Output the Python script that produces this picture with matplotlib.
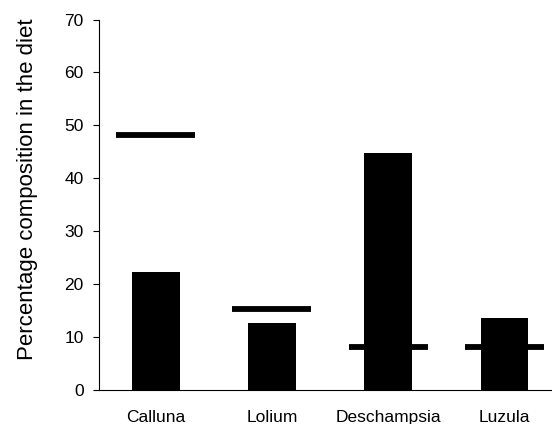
import numpy as np
import matplotlib
matplotlib.use("Agg")
import matplotlib.pyplot as plt

plt.rcParams['font.family'] = ['Liberation Sans', 'DejaVu Sans']

species = ["Calluna", "Lolium", "Deschampsia", "Luzula"]
diet = [22.3, 12.7, 44.8, 13.6]        # bars
available = [48.2, 15.3, 8.1, 8.1]     # horizontal dashes

fig = plt.figure(figsize=(5.52, 4.24), dpi=100)
ax = fig.add_axes([0.179, 0.080, 0.821, 0.874])

x = np.arange(len(species))
ax.bar(x, diet, width=0.41, color='black')
ax.hlines(available, x - 0.34, x + 0.34, colors='black', linewidth=4.2)

ax.set_xlim(-0.49, 3.41)
ax.set_ylim(0, 70)
ax.set_yticks(range(0, 71, 10))
ax.set_xticks(x)
ax.set_xticklabels(species, fontsize=12.5)
ax.tick_params(axis='x', length=0, pad=14)
ax.tick_params(axis='y', length=4.3, labelsize=12.5, pad=6.5)
ax.set_ylabel('Percentage composition in the diet', fontsize=16)
ax.yaxis.set_label_coords(-0.135, 0.543)

ax.spines['top'].set_visible(False)
ax.spines['right'].set_visible(False)

plt.savefig('out.png', dpi=100)
